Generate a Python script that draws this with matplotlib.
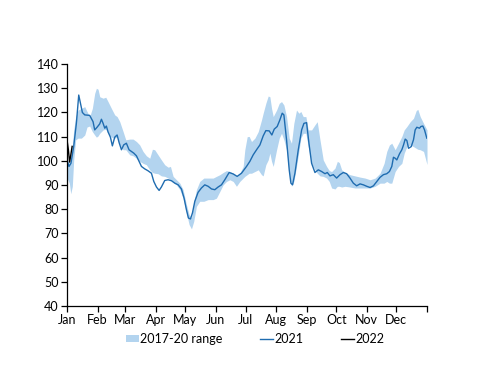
import matplotlib
matplotlib.use("Agg")
import matplotlib.pyplot as plt
import numpy as np

plt.rcParams['font.family'] = ['Lato', 'DejaVu Sans']

# 2021 line (day of year, value)
d21 = [0, 2, 4, 6.8, 9.5, 11.9, 13.6, 15.6, 18, 23, 26.4, 28.1, 30.5, 33.2, 34.9, 36.6,
       38.3, 39.9, 41.6, 44, 46, 48.4, 50.8, 52.8, 55.2, 57.5, 60.2, 62.9, 65.3, 67.7,
       70.4, 73.1, 75.5, 78.8, 82.2, 85.6, 88, 90.7, 93.4, 95.7, 99.1, 102.5, 105.9,
       109.3, 112.7, 116, 118.7, 121.1, 123.1, 125.2, 127.2, 129.6, 132.9, 136.3, 139.7,
       143.1, 146.5, 149.9, 153.2, 156.6, 160, 164.4, 168.5, 172.5, 176.9, 182, 185.4,
       188.8, 192.2, 195.6, 198.9, 201.6, 205, 207.7, 210.1, 213.1, 215.8, 218.2, 219.9,
       222.6, 225.3, 227, 228.7, 231.1, 234.5, 237.9, 240.2, 242.9, 245.3, 248, 251.4,
       254.8, 258.2, 261.6, 263.9, 266.6, 270, 273.4, 276.8, 280.2, 283.5, 286.9, 290.3,
       293.7, 297.1, 300.5, 303.9, 307.3, 310.7, 314.1, 317.4, 320.8, 324.2, 326.9, 329.3,
       331, 332.7, 334.4, 337.1, 339.5, 341.2, 342.9, 344.6, 346.3, 349, 351.3, 353, 354.7,
       357.4, 358.8, 360.8, 362.5, 364.8]
v21 = [100.4, 97.7, 99, 106, 115.5, 127.2, 123.8, 120, 119, 118.8, 116.2, 112.8, 113.9,
       115.3, 117.2, 115.5, 113.5, 114.4, 112, 109.8, 106.2, 109.8, 110.7, 107.6, 104.6,
       106.6, 107.3, 104.6, 103.9, 103.2, 102.1, 99.8, 97.7, 96.7, 95.9, 94.9, 91.5, 89.2,
       87.8, 89.2, 91.9, 92.2, 91.8, 90.8, 90.1, 88.4, 84.6, 79.8, 76.4, 76, 78.5, 83.3,
       87, 88.8, 90.1, 89.5, 88.4, 88.1, 89.2, 90.1, 92.2, 95.2, 94.6, 93.6, 94.9, 97.7,
       99.8, 102.5, 104.6, 106.6, 110.3, 112.5, 112.4, 110.7, 113.1, 114.2, 116.9, 119.7,
       119, 108.7, 96.3, 90.8, 90.1, 94.9, 104.6, 112.8, 115.5, 115.8, 107.3, 99, 95.2,
       96.3, 95.6, 94.7, 95.2, 93.8, 94.3, 92.9, 94.3, 95.2, 94.7, 92.9, 90.8, 89.7, 90.5,
       90.1, 89.5, 89, 89.7, 91.5, 93.2, 94.3, 94.7, 95.6, 97.7, 101.5, 101.1, 100.4,
       102.9, 104.6, 106.6, 109, 108.4, 105.2, 105.9, 108.7, 112.8, 113.9, 113.5, 114.2,
       114.4, 112.8, 109.4]

# 2017-20 range (day, low, high)
drng = [0, 2.4, 3.8, 5.4, 6.8, 8.8, 11.2, 14.6, 18, 20.3, 23, 25.7, 28.1, 29.8, 31.5,
        33.2, 36.6, 39.3, 41.6, 45, 48.4, 50.8, 53.5, 56.9, 59.6, 63.6, 67, 70.4, 73.7,
        77.1, 80.5, 83.9, 86.6, 88.9, 92.3, 95.7, 99.1, 102.5, 104.9, 107.6, 111, 114.4,
        117.7, 121.1, 123.8, 126.2, 128.5, 131.2, 134.6, 138.7, 143.1, 148.2, 151.5, 155,
        158.3, 161.7, 165.1, 168.5, 171.8, 175.2, 178.6, 180.3, 182.7, 184.7, 187.1,
        190.5, 193.9, 197.2, 198.9, 201.6, 204, 205.7, 207.4, 209.1, 212.5, 215.2, 217.5,
        219.9, 222.6, 225.3, 227.6, 230, 232.7, 235.1, 237.1, 239.5, 242.2, 244.6, 248,
        251.4, 253.7, 256.5, 259.8, 263.2, 265.9, 268.3, 271.7, 274.1, 276.1, 278.5,
        281.9, 286.9, 292, 297.1, 302.2, 307.3, 312.4, 317.4, 321.5, 324.2, 326.9, 329.3,
        332.7, 336.1, 339.5, 341.9, 344.6, 348, 351.3, 354.1, 355.7, 358.1, 361.5, 365]
lo_rng = [93, 90.8, 86.4, 89.5, 100.4, 108.7, 109.4, 109.4, 110.7, 114, 114.4, 112.1,
          110.7, 109.8, 110.3, 111.4, 112.8, 113.1, 111.4, 109.8, 109.4, 109.8, 106.6,
          104.6, 104.6, 102.5, 102.1, 101.1, 99.8, 99, 98.4, 96.3, 95.2, 94.9, 94.7, 93.8,
          93.6, 92.9, 92.2, 91.1, 90.1, 88.1, 84.6, 78.5, 73.7, 71.9, 75, 81.2, 83.3, 83.3,
          84, 84, 84.6, 87.4, 90.1, 91.5, 92.2, 91.5, 89.5, 91.5, 92.9, 93.6, 94.3, 94.9,
          94.9, 95.6, 96.3, 94.3, 93.8, 98.4, 100.4, 103.2, 99.8, 97.7, 104.6, 109.4,
          111.4, 108.7, 104.6, 94.9, 89.5, 91.5, 97.7, 103.9, 109.4, 111.4, 111.4, 105.9,
          99, 96.3, 94.9, 93.8, 93.6, 92.9, 91.5, 88.8, 88.4, 89.5, 89.5, 89.2, 89.5,
          89.2, 88.8, 88.8, 88.8, 88.8, 89.5, 90.8, 90.8, 91.5, 90.8, 90.8, 95.6, 97.7,
          99, 103.2, 105.9, 106.6, 105.9, 105.2, 104.8, 104.6, 103.9, 98.5]
hi_rng = [100.4, 99, 100.4, 106, 112.8, 118.3, 121, 121.7, 122.4, 120.4, 118.3, 121.7,
          127.9, 130, 129.6, 126.5, 125.9, 126.3, 124.5, 121.7, 119, 118.3, 116.2, 112.1,
          108.7, 109, 109, 108, 106.6, 103.9, 102.1, 101.1, 104.8, 104.6, 102.5, 100.4,
          98.4, 97.4, 97.7, 93.6, 92.2, 90.8, 88.1, 81.9, 77.8, 76.4, 82.6, 88.1, 91.5,
          92.9, 92.9, 92.9, 93.6, 94.3, 95.2, 96, 95.6, 94.9, 93.8, 94.9, 97.7, 104.6,
          110, 110.1, 108, 109.4, 112.1, 116.9, 119.7, 123.8, 126.8, 126.5, 121.7, 118.3,
          121, 123.8, 124.5, 123.1, 118.3, 109.4, 107.3, 115.5, 121, 119.7, 120.4, 118.3,
          118.3, 112.8, 112.8, 114.9, 116.2, 108.7, 100.4, 97.7, 96, 95.6, 97, 99.8, 99.3,
          96.3, 95.2, 94.3, 93.8, 93.3, 92.9, 92.2, 92.9, 94.9, 99, 103.9, 106.6, 107.3,
          104.6, 107.3, 110.1, 112.8, 114.2, 116.2, 117.6, 120.8, 121.3, 118.3, 115.5,
          112.8]

# 2022 line
d22 = [0, 1.4, 2.6, 3.6, 5.2]
v22 = [108.7, 104.6, 99.5, 101.8, 106]

month_days = [0, 31, 59, 90, 120, 151, 181, 212, 243, 273, 304, 334]
month_labels = ['Jan', 'Feb', 'Mar', 'Apr', 'May', 'Jun', 'Jul', 'Aug', 'Sep', 'Oct',
                'Nov', 'Dec']

band_color = '#B3D4EF'
line21_color = '#1F6CB0'

fig = plt.figure(figsize=(5, 3.86), dpi=100)
ax = fig.add_axes([0.134, 0.207, 0.72, 0.627])

ax.fill_between(drng, lo_rng, hi_rng, color=band_color, linewidth=0,
                label='2017-20 range')
ax.plot(d21, v21, color=line21_color, linewidth=1.0, label='2021')
ax.plot(d22, v22, color='black', linewidth=1.0, label='2022')

ax.set_xlim(0, 365)
ax.set_ylim(40, 140)
ax.set_yticks(np.arange(40, 141, 10))
ax.set_xticks(month_days + [365])
ax.set_xticklabels(month_labels + [''])

for s in ['top', 'right']:
    ax.spines[s].set_visible(False)
for s in ['left', 'bottom']:
    ax.spines[s].set_color('black')
    ax.spines[s].set_linewidth(0.9)
ax.tick_params(axis='both', direction='out', length=4, width=0.9,
               labelsize=9, colors='black', pad=2)

leg = fig.legend(loc='center', bbox_to_anchor=(0.51, 0.122), ncol=3, frameon=False,
                 fontsize=9, handlelength=1.05, handleheight=0.55, handletextpad=0.1,
                 columnspacing=3.0)

fig.savefig('out.png', dpi=100)
